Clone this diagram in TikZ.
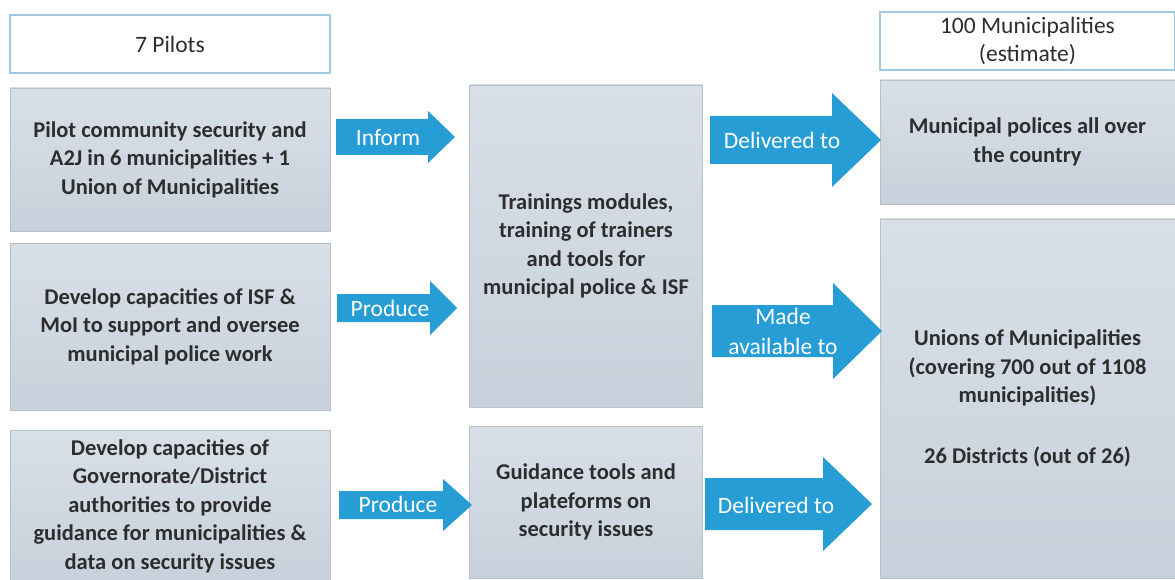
\documentclass[tikz,border=0pt]{standalone}
\usepackage{fontspec}
\setmainfont{Carlito}
\definecolor{arrowblue}{RGB}{38,157,212}
\definecolor{boxtop}{RGB}{216,223,231}
\definecolor{boxbot}{RGB}{200,209,219}
\definecolor{boxline}{RGB}{184,192,201}
\definecolor{headline}{RGB}{160,200,226}
\definecolor{txt}{RGB}{45,45,45}
\newcommand{\blockarrow}[6]{%
  \fill[arrowblue] ({#1},{#4-#5}) -- ({#2},{#4-#5}) -- ({#2},{#4-#6}) -- ({#3},{#4})
    -- ({#2},{#4+#6}) -- ({#2},{#4+#5}) -- ({#1},{#4+#5}) -- cycle;}
\begin{document}
\begin{tikzpicture}[x=1pt,y=-1pt,
  headbox/.style={draw=headline,line width=1.2pt,fill=white,inner sep=0pt,
    text=txt,font=\fontsize{23.5}{28}\selectfont,align=center},
  greybox/.style={draw=boxline,line width=0.6pt,top color=boxtop,bottom color=boxbot,
    inner sep=0pt,text=txt,font=\bfseries\fontsize{22.5}{28.5}\selectfont,align=center},
  arrowlabel/.style={text=white,font=\fontsize{23.5}{30}\selectfont,align=center,inner sep=0pt}]
\useasboundingbox (0,0) rectangle (1175,580);
% left column
\node[headbox,minimum width=320pt,minimum height=58pt] (pilots) at (170,44) {7 Pilots};
\node[greybox,minimum width=320pt,minimum height=143pt] (p1) at (170,159.5)
  {Pilot community security and\\A2J in 6 municipalities + 1\\Union of Municipalities};
\node[greybox,minimum width=320pt,minimum height=167pt] (p2) at (170,326.5)
  {Develop capacities of ISF \&\\MoI to support and oversee\\municipal police work};
\node[greybox,minimum width=320pt,minimum height=152pt] (p3) at (170,506)
  {Develop capacities of\\Governorate/District\\authorities to provide\\guidance for municipalities \&\\data on security issues};
% middle column
\node[greybox,minimum width=233pt,minimum height=322pt] (m1) at (586,246)
  {Trainings modules,\\training of trainers\\and tools for\\municipal police \& ISF};
\node[greybox,minimum width=233pt,minimum height=152pt] (m2) at (586,502)
  {Guidance tools and\\plateforms on\\security issues};
% right column
\node[headbox,minimum width=295pt,minimum height=58pt] (hundred) at (1027.5,41)
  {100 Municipalities\\(estimate)};
\node[greybox,minimum width=295pt,minimum height=124pt] (r1) at (1027.5,142)
  {Municipal polices all over\\the country};
\node[greybox,minimum width=295pt,minimum height=359pt] (r2) at (1027.5,398.5)
  {Unions of Municipalities\\(covering 700 out of 1108\\municipalities)\\[32pt]26 Districts (out of 26)};
% arrows
\blockarrow{336}{428}{455}{137}{18}{26}
\node[arrowlabel] (inform) at (388,138) {Inform};
\blockarrow{337}{430}{457}{308}{14}{27}
\node[arrowlabel] (produce1) at (390,308) {Produce};
\blockarrow{339}{443}{472}{505}{14}{26}
\node[arrowlabel] (produce2) at (398,504) {Produce};
\blockarrow{710}{832}{881}{140}{24}{47}
\node[arrowlabel] (deliv1) at (782,140) {Delivered to};
\blockarrow{712}{833}{882}{331}{26}{48}
\node[arrowlabel] (made) at (783,331) {Made\\available to};
\blockarrow{705}{823}{872}{504}{26}{47}
\node[arrowlabel] (deliv2) at (776,505) {Delivered to};
\end{tikzpicture}
\end{document}
